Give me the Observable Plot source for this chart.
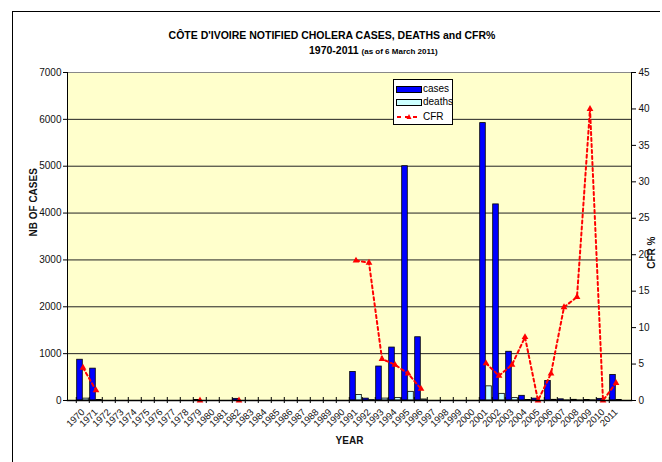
<!DOCTYPE html>
<html><head><meta charset="utf-8">
<script src="https://cdn.jsdelivr.net/npm/d3@7"></script>
<script src="https://cdn.jsdelivr.net/npm/@observablehq/plot@0.6"></script>
<style>
body{margin:0;background:#fff;font-family:"Liberation Sans",Arial,sans-serif;overflow:hidden;}
#wrap{position:relative;width:662px;height:462px;overflow:hidden;}
#ftop{position:absolute;left:12px;top:11px;width:648px;height:0;border-top:1.5px solid #000;}
#fleft{position:absolute;left:12px;top:11px;width:0;height:460px;border-left:1.5px solid #000;}
#t1{position:absolute;top:28px;left:0;width:664px;text-align:center;font-weight:bold;font-size:10.5px;line-height:14px;}
#t2{position:absolute;top:43px;left:309px;font-weight:bold;font-size:10.5px;line-height:14px;white-space:nowrap;}
#t2 span{font-size:8px;}
#chart{position:absolute;left:0;top:60px;width:662px;height:402px;overflow:hidden;}
#legend{position:absolute;left:393px;top:79px;width:58px;height:44px;background:#fff;border:1px solid #000;font-size:10px;}
#legend .row{position:absolute;left:2px;height:12px;line-height:12px;}
#legend .sw{position:absolute;left:0;top:3px;width:24px;height:5px;border:1px solid #000;}
#legend .lab{position:absolute;left:27px;top:0;}
</style></head>
<body>
<div id="wrap">
<div id="ftop"></div><div id="fleft"></div>
<div id="t1">CÔTE D'IVOIRE NOTIFIED CHOLERA CASES, DEATHS and CFR%</div>
<div id="t2">1970-2011 <span>(as of 6 March 2011)</span></div>
<div id="chart"></div>
<div id="legend">
  <div class="row" style="top:3px"><div class="sw" style="background:#0000FF"></div><div class="lab">cases</div></div>
  <div class="row" style="top:16px"><div class="sw" style="background:#CCFFFF"></div><div class="lab">deaths</div></div>
  <div class="row" style="top:31px"><svg width="26" height="12" style="position:absolute;left:0;top:0"><line x1="1" x2="25" y1="6" y2="6" stroke="#FF0000" stroke-width="2" stroke-dasharray="4,4"/><path d="M13,3 L15.5,8 L10.5,8 Z" fill="#FF0000"/></svg><div class="lab">CFR</div></div>
</div>
</div>
<script>
const years = d3.range(1970, 2012);
const cases = [870, 680, null, null, null, null, null, null, null, 10,
  null, null, 35, null, null, null, null, null, null, null,
  null, 610, 40, 725, 1130, 5000, 1350, null, null, null,
  null, 5920, 4185, 1040, 100, 40, 415, 25, 15, 10,
  35, 545];
const deaths = [40, 10, null, null, null, null, null, null, null, 0,
  null, null, 0, null, null, null, null, null, null, null,
  null, 118, 8, 41, 55, 185, 22, null, null, null,
  null, 302, 142, 51, 9, 0, 15, 3, 2, 4,
  0, 13];
const cfr = [4.5, 1.4, null, null, null, null, null, null, null, 0,
  null, null, 0, null, null, null, null, null, null, null,
  null, 19.2, 18.9, 5.7, 4.9, 3.7, 1.6, null, null, null,
  null, 5.1, 3.4, 4.9, 8.7, 0, 3.7, 12.8, 14.2, 40.0,
  0, 2.4];
const caseTicks = d3.range(0, 7001, 1000);
const cfrTicks = d3.range(0, 46, 5);

const W = 662, H = 402, mL = 67, mR = 31, mT = 12, mB = 62;
const bw = (W - mL - mR) / years.length;
const k = 7000 / 45; // CFR axis → cases axis

const rows = years.map((y, i) => ({year: y, cases: cases[i], deaths: deaths[i], cfr: cfr[i] == null ? null : cfr[i] * k}));

const chart = Plot.plot({
  width: W, height: H,
  marginLeft: mL, marginRight: mR, marginTop: mT, marginBottom: mB,
  style: {fontFamily: "Liberation Sans, Arial, sans-serif", color: "#111", background: "transparent", overflow: "hidden"},
  x: {type: "band", domain: years, padding: 0, axis: null},
  y: {domain: [0, 7000], axis: null},
  marks: [
    Plot.frame({fill: "#FFFFCC", stroke: null}),
    Plot.gridY(caseTicks.filter(d => d > 0 && d < 7000), {stroke: "#222", strokeOpacity: 1}),
    Plot.ruleY([7000], {stroke: "#888"}),
    Plot.barY(rows.filter(d => d.cases != null), {x: "year", y: "cases", fill: "#0000FF", stroke: "#000", strokeWidth: 0.8, insetLeft: 0.7, insetRight: bw / 2}),
    Plot.barY(rows.filter(d => d.deaths != null), {x: "year", y: "deaths", fill: "#CCFFFF", stroke: "#000", strokeWidth: 0.8, insetLeft: bw / 2, insetRight: 0.7}),
    Plot.lineY(rows, {x: "year", y: "cfr", stroke: "#FF0000", strokeWidth: 2, strokeDasharray: "3,3"}),
    Plot.dot(rows.filter(d => d.cfr != null), {x: "year", y: "cfr", symbol: "triangle", r: 2.5, fill: "#FF0000", stroke: null}),
    Plot.frame({anchor: "left", stroke: "#000"}),
    Plot.frame({anchor: "right", stroke: "#000"}),
    Plot.frame({anchor: "bottom", stroke: "#000", strokeWidth: 1.5}),
    Plot.axisY(caseTicks, {anchor: "left", tickSize: 4, tickPadding: 2, label: null, fontSize: 10, stroke: "#000", tickFormat: d3.format("d")}),
    Plot.axisY(cfrTicks.map(d => d * k), {anchor: "right", tickSize: 4, tickPadding: 3, label: null, fontSize: 10, tickFormat: d => String(Math.round(d / k)), stroke: "#000"}),
    Plot.axisX(years, {anchor: "bottom", tickSize: 6, tickFormat: () => "", dx: -bw / 2, dy: -3, label: null, stroke: "#000"}),
    Plot.axisX(years, {anchor: "bottom", tickSize: 0, tickPadding: 10, tickRotate: -45, label: null, fontSize: 9.5, tickFormat: d => String(d)}),
    Plot.text(["NB OF CASES"], {frameAnchor: "left", rotate: -90, dx: -34, fontWeight: "bold", fontSize: 10}),
    Plot.text(["CFR %"], {frameAnchor: "right", rotate: -90, dx: 20, fontWeight: "bold", fontSize: 10}),
    Plot.text(["YEAR"], {frameAnchor: "bottom", dy: 43, fontWeight: "bold", fontSize: 10})
  ]
});
document.getElementById("chart").appendChild(chart);
</script>
</body></html>
